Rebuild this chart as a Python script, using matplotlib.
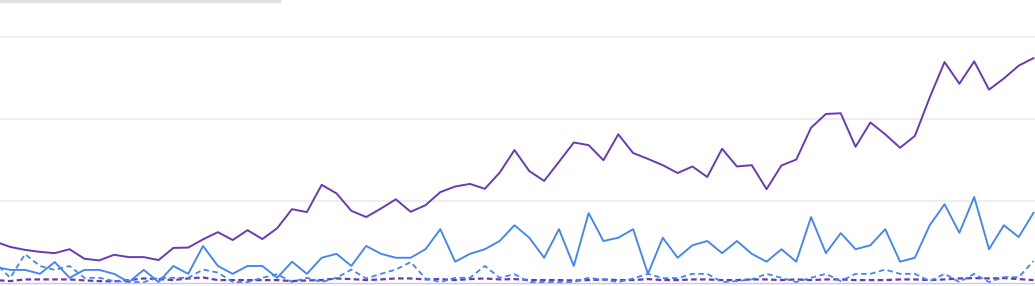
import numpy as np
import matplotlib
matplotlib.use("Agg")
import matplotlib.pyplot as plt
from matplotlib.patches import Rectangle

# weekly interest values (0-100 scale), 71 points
purple_solid = [12.6, 11.0, 10.1, 9.5, 9.1, 10.3, 7.4, 6.9, 8.6, 7.9, 7.9, 7.0,
                10.7, 10.8, 13.3, 15.5, 13.1, 16.1, 13.4, 16.7, 22.5, 21.6, 29.9,
                27.3, 22.0, 20.1, 22.7, 25.5, 21.7, 23.7, 27.7, 29.4, 30.2, 28.7,
                33.6, 40.5, 34.1, 31.1, 36.9, 42.8, 42.0, 37.4, 45.3, 39.6, 37.8,
                35.9, 33.5, 35.5, 32.3, 40.9, 35.5, 35.9, 28.6, 35.8, 37.6, 47.3,
                51.5, 51.7, 41.5, 48.9, 45.3, 41.2, 44.8, 56.5, 67.3, 60.7, 67.5,
                58.9, 62.3, 66.2, 68.5]
blue_solid = [4.9, 4.0, 4.0, 2.8, 6.4, 1.6, 4.0, 4.0, 2.8, 0.3, 4.0, 0.3, 5.2,
              2.8, 11.3, 5.2, 2.8, 5.2, 5.2, 1.6, 6.5, 2.8, 7.7, 8.9, 5.2, 11.3,
              8.9, 7.7, 7.7, 10.3, 16.4, 6.5, 8.9, 10.3, 12.8, 17.6, 13.8, 7.7,
              16.4, 5.2, 21.3, 12.8, 13.8, 16.4, 2.8, 13.8, 7.7, 11.5, 12.8, 9.1,
              12.8, 8.9, 6.5, 10.3, 6.5, 20.1, 9.1, 15.2, 10.3, 11.5, 16.4, 6.5,
              7.7, 17.6, 24.0, 15.3, 26.2, 10.3, 17.6, 14.0, 21.4]
blue_dashed = [6.1, 1.6, 8.8, 5.2, 4.0, 5.2, 1.6, 1.6, 0.6, 0.3, 0.3, 1.6, 1.6,
               1.6, 4.1, 3.2, 0.3, 0.3, 1.6, 2.7, 0.3, 1.6, 0.3, 1.6, 4.1, 1.4,
               2.8, 4.1, 6.4, 1.4, 0.3, 1.6, 1.6, 5.2, 1.6, 2.7, 0.3, 0.3, 0.3,
               0.3, 1.6, 1.0, 0.3, 1.4, 2.8, 1.5, 1.5, 2.8, 2.8, 0.3, 0.6, 1.1,
               2.8, 1.6, 0.3, 1.6, 2.8, 0.6, 2.8, 2.8, 4.1, 2.8, 2.8, 0.6, 2.8,
               0.3, 2.8, 0.3, 1.8, 1.8, 6.7]
purple_dashed = [0.9, 0.6, 1.1, 1.1, 1.1, 1.1, 0.8, 0.6, 0.5, 0.9, 1.4, 1.2, 0.9,
                 1.4, 1.7, 0.9, 0.9, 0.9, 0.9, 0.9, 0.6, 0.8, 0.9, 1.4, 1.2, 0.9,
                 1.1, 1.4, 1.4, 1.1, 1.2, 0.9, 1.2, 1.4, 1.1, 1.2, 0.9, 0.9, 0.9,
                 0.8, 0.9, 1.1, 0.9, 0.9, 1.2, 0.9, 0.9, 1.1, 1.1, 0.9, 0.9, 1.1,
                 1.1, 0.9, 1.1, 0.9, 1.1, 1.1, 0.9, 0.9, 0.9, 1.1, 1.1, 0.9, 1.1,
                 1.4, 1.5, 1.4, 1.5, 1.2, 0.9]
grid_values = [0, 25, 50, 75]

PURPLE = "#673ab7"
BLUE = "#4285f4"

fig = plt.figure(figsize=(10.35, 2.86), dpi=100)
ax = fig.add_axes([0, 0, 1, 1])

# horizontal grid
for g in grid_values[1:]:
    ax.axhline(g, color="#eeeeee", lw=1.4, zorder=0)
ax.axhline(grid_values[0], color="#cccccc", lw=1.0, zorder=0)

x = np.arange(len(purple_solid))
ax.plot(x, purple_dashed, color=PURPLE, lw=1.6, dashes=(2.5, 1.5))
ax.plot(x, blue_dashed, color=BLUE, lw=1.3, dashes=(3, 2))
ax.plot(x, blue_solid, color=BLUE, lw=1.35)
ax.plot(x, purple_solid, color=PURPLE, lw=1.4)

ax.set_xlim(0.31, 70.1)
ax.set_ylim(-0.9, 86.2)
ax.axis("off")

# grey strip at the top left
fig.patches.append(Rectangle((0, 0.993), 280 / 1035, 0.007,
                             transform=fig.transFigure, color="#e0e0e0"))

fig.savefig("out.png", dpi=100)
